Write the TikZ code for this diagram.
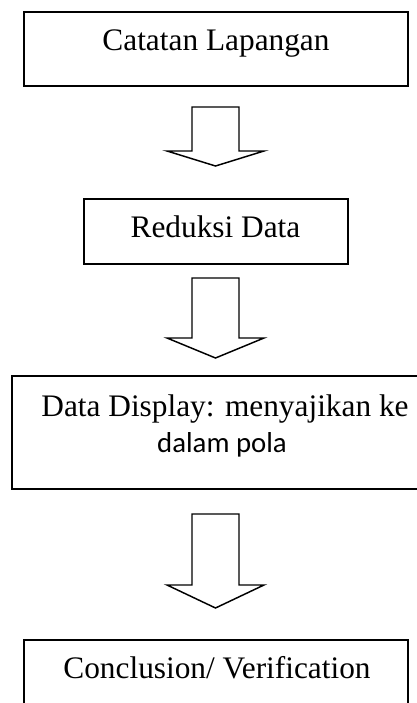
\documentclass[tikz,border=0pt]{standalone}
\usepackage{fontspec}
\setmainfont{Liberation Serif}
\newfontfamily\calibrifont{Carlito}
\usetikzlibrary{calc}

\tikzset{
  stage/.style={draw, line width=1.5pt, inner sep=0pt, anchor=north west},
  stagetext/.style={anchor=base, inner sep=0.75pt, font=\fontsize{23.5}{28}\selectfont},
  flowarrow/.style={line width=1.1pt, line join=miter},
}

% hollow block arrow pointing down: #1 top of shaft, #2 tip, #3 head length
\newcommand{\hollowdown}[3]{%
  \draw[flowarrow] ($(#1)+(-23.5,0)$) -- ($(#1)+(23.5,0)$) -- ($(#2)+(23.5,-#3)$)
    -- ($(#2)+(48.5,-#3)$) -- (#2) -- ($(#2)+(-48.5,-#3)$) -- ($(#2)+(-23.5,-#3)$) -- cycle;}

\begin{document}
\begin{tikzpicture}[x=0.75pt,y=0.75pt,yscale=-1,xscale=1]
\useasboundingbox (0,0) rectangle (417,703);
\clip (0,0) rectangle (417,703);

% Boxes
\node[stage, minimum width=288pt, minimum height=55.5pt] (catatan) at (23,11) {};
\node[stage, minimum width=198pt, minimum height=48.75pt] (reduksi) at (83,198) {};
\node[stage, minimum width=314.25pt, minimum height=84.75pt] (display) at (11,375) {};
\node[stage, minimum width=288pt, minimum height=60pt] (conclusion) at (23,639) {};

% Text Nodes
\node[stagetext] (catatanText) at (216,50) {Catatan Lapangan};
\node[stagetext] (reduksiText) at (215.5,237) {Reduksi Data};
\node[stagetext] (displayText) at (225,416) {Data Display: menyajikan ke};
\node[stagetext, font=\calibrifont\fontsize{21.6}{26}\selectfont] (polaText) at (222,452) {dalam pola};
\node[stagetext] (conclusionText) at (217,678) {Conclusion/ Verification};

% Arrows
\coordinate (arrowOneTop) at (215.5,107);
\coordinate (arrowOneTip) at (215.5,166);
\coordinate (arrowTwoTop) at (215.5,278);
\coordinate (arrowTwoTip) at (215.5,358);
\coordinate (arrowThreeTop) at (215.5,514);
\coordinate (arrowThreeTip) at (215.5,608);
\hollowdown{arrowOneTop}{arrowOneTip}{15}
\hollowdown{arrowTwoTop}{arrowTwoTip}{20}
\hollowdown{arrowThreeTop}{arrowThreeTip}{23}

\end{tikzpicture}
\end{document}
